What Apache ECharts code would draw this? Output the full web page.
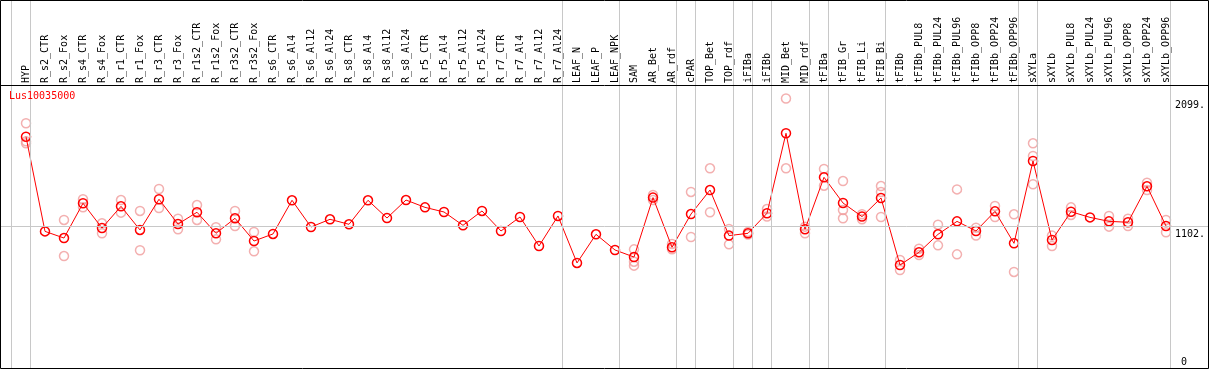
<!DOCTYPE html>
<html><head><meta charset="utf-8">
<script src="https://cdn.jsdelivr.net/npm/echarts@6/dist/echarts.min.js"></script>
<style>html,body{margin:0;padding:0;background:#fff}#c{width:1209px;height:370px}</style>
</head><body><div id="c"></div>
<script>
const geneName = 'Lus10035000';
const categories = ['HYP','R_s2_CTR','R_s2_Fox','R_s4_CTR','R_s4_Fox','R_r1_CTR','R_r1_Fox','R_r3_CTR','R_r3_Fox',
  'R_r1s2_CTR','R_r1s2_Fox','R_r3s2_CTR','R_r3s2_Fox','R_s6_CTR','R_s6_Al4','R_s6_Al12','R_s6_Al24',
  'R_s8_CTR','R_s8_Al4','R_s8_Al12','R_s8_Al24','R_r5_CTR','R_r5_Al4','R_r5_Al12','R_r5_Al24',
  'R_r7_CTR','R_r7_Al4','R_r7_Al12','R_r7_Al24','LEAF_N','LEAF_P','LEAF_NPK','SAM','AR_Bet','AR_rdf',
  'cPAR','TOP_Bet','TOP_rdf','iFIBa','iFIBb','MID_Bet','MID_rdf','tFIBa','tFIB_Gr','tFIB_Li','tFIB_Bi',
  'tFIBb','tFIBb_PUL8','tFIBb_PUL24','tFIBb_PUL96','tFIBb_OPP8','tFIBb_OPP24','tFIBb_OPP96',
  'sXYLa','sXYLb','sXYLb_PUL8','sXYLb_PUL24','sXYLb_PUL96','sXYLb_OPP8','sXYLb_OPP24','sXYLb_OPP96'];
const meanValues = [1801,1064,1012,1283,1090,1259,1075,1314,1121,
  1213,1049,1166,989,1044,1306,1098,1158,
  1119,1306,1168,1308,1251,1215,1111,1223,
  1067,1176,950,1184,818,1041,919,864,1327,940,
  1199,1386,1031,1049,1205,1828,1080,1485,1285,1179,1324,
  802,901,1041,1142,1067,1220,971,
  1612,997,1217,1173,1142,1135,1415,1106];
const rep1 = [1906,null,1153,1314,1127,1308,1223,1394,1163,
  1269,1096,1223,1059,null,null,null,null,
  null,null,null,null,null,null,null,null,
  null,null,null,null,null,null,null,924,1347,966,
  1371,1555,1083,1060,1238,2099,1101,1550,1456,1197,1417,
  763,929,1116,1391,1093,1262,1197,
  1750,1031,1251,null,1184,1163,1443,1153];
const rep2 = [1765,null,872,1252,1049,1210,917,1246,1080,
  1153,1002,1106,909,null,null,null,null,
  null,null,null,null,null,null,null,null,
  null,null,null,null,null,null,null,828,1308,924,
  1020,1213,963,1040,1179,1555,1049,1420,1231,1158,1371,
  841,880,955,885,1031,1176,748,
  1651,950,1192,null,1101,1106,1386,1057];
const rep3 = [1750,null,null,null,null,null,null,null,null,
  null,null,null,null,null,null,null,null,
  null,null,null,null,null,null,null,null,
  null,null,null,null,null,null,null,797,null,null,
  null,null,null,null,null,null,null,null,1166,null,1176,
  null,null,null,null,null,null,null,
  1431,null,null,null,null,null,null,null];
const yTickValues = [0, 1102, 2099];
const groupBreaks = [-1, 0, 28, 31, 34, 35, 37, 38, 39, 41, 42, 45, 52, 53, 60];

const FONT = 'DejaVu Sans Mono';
const plotTop = 85, plotBottom = 368;
const yHeader = 2099 * 1.05;
const yMax = yHeader * plotBottom / (plotBottom - plotTop);
const xMin = -25 / 19, xMax = 1182 / 19;
const breakOffset = 4.5 / 19;
const gray = '#c8c8c8';
const clear = 'rgba(0,0,0,0)';

const pts = arr => arr.map((v, i) => v == null ? null : [i, v]).filter(p => p);

const labelStyles = {
  0:    {position: 'insideEndTop', distance: [21, 1], formatter: '0'},
  1102: {position: 'insideEndBottom', distance: [3, 3], formatter: '1102.'},
  2099: {position: 'insideEndBottom', distance: [3, 1.5], formatter: '2099.'}
};

const markData = groupBreaks.map(k => ({
  xAxis: k + breakOffset,
  lineStyle: {color: gray, width: 1, type: 'solid'},
  label: {show: false}
})).concat(yTickValues.map(v => ({
  yAxis: v,
  lineStyle: {color: v === 1102 ? gray : clear, width: 1, type: 'solid'},
  label: Object.assign({show: true, color: '#000', fontFamily: FONT, fontSize: 10}, labelStyles[v])
}))).concat([{
  yAxis: yHeader,
  lineStyle: {color: '#000', width: 1, type: 'solid'},
  label: {show: false}
}]);

const repStyle = {color: clear, borderColor: '#f09c9c', borderWidth: 1.5};
const repSeries = [rep1, rep2, rep3].map(r => ({
  type: 'scatter', data: pts(r), symbol: 'circle', symbolSize: 9,
  itemStyle: repStyle, z: 2, silent: true
}));

const chart = echarts.init(document.getElementById('c'), null, {renderer: 'canvas'});
chart.setOption({
  animation: false,
  backgroundColor: '#fff',
  title: {text: geneName, left: 9, top: 91, padding: 0,
    textStyle: {color: '#ff0000', fontSize: 10, fontFamily: FONT, fontWeight: 'normal'}},
  grid: {left: 1, right: 1, top: 0, bottom: 2, containLabel: false},
  xAxis: {
    type: 'value', min: xMin, max: xMax, position: 'top', offset: -plotTop,
    axisLine: {show: false},
    axisTick: {show: false}, splitLine: {show: false},
    axisLabel: {
      customValues: categories.map((_, i) => i),
      formatter: v => categories[Math.round(v)] || '',
      rotate: 90, margin: 2, color: '#000', fontFamily: FONT, fontSize: 10
    }
  },
  yAxis: {
    type: 'value', min: 0, max: yMax, show: false
  },
  graphic: [{type: 'rect', shape: {x: 0.5, y: 0.5, width: 1208, height: 368},
    style: {fill: 'none', stroke: '#000', lineWidth: 1}, z: 100, silent: true}],
  series: repSeries.concat([{
    type: 'line', data: pts(meanValues), symbol: 'circle', symbolSize: 9,
    lineStyle: {color: '#ff0000', width: 1},
    itemStyle: {color: clear, borderColor: '#ff0000', borderWidth: 1.5},
    z: 3, silent: true,
    markLine: {silent: true, symbol: 'none', animation: false, data: markData}
  }])
});
</script></body></html>
